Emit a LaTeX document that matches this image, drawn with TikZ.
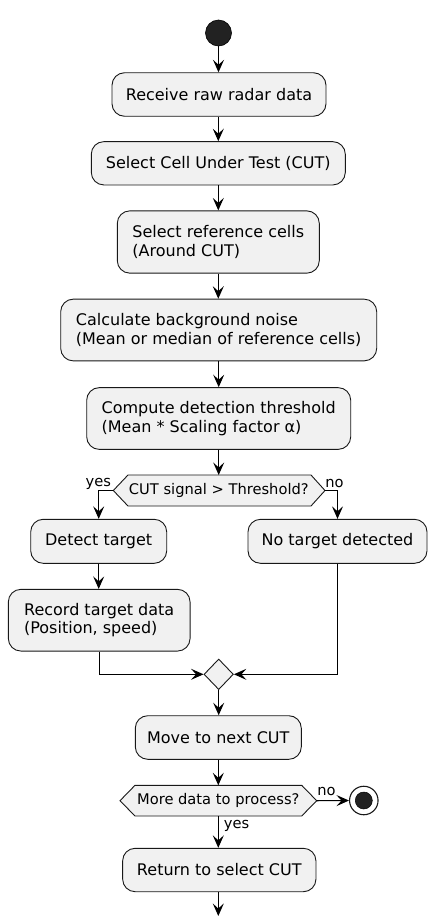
\documentclass[tikz,border=0pt]{standalone}
\usepackage{fontspec}
\setmainfont{DejaVu Sans}
\usetikzlibrary{arrows.meta,shapes.geometric}
\definecolor{boxfill}{HTML}{F1F1F1}
\definecolor{boxline}{HTML}{181818}
\definecolor{startfill}{HTML}{222222}
\newcommand\actfont{\fontsize{16}{18.6}\selectfont}
\newcommand\lblfont{\fontsize{14.67}{17}\selectfont}
\tikzset{
  act/.style={draw=boxline, fill=boxfill, line width=0.9pt, rounded corners=12.5pt,
    inner sep=0pt, align=left, font=\actfont},
  arr/.style={line width=1.1pt, draw=black, -{Stealth[length=12.5pt,width=11pt,inset=5pt]}},
  hexa/.style={draw=boxline, fill=boxfill, line width=0.9pt},
  lbl/.style={font=\lblfont, inner sep=0pt},
}
\begin{document}
\begin{tikzpicture}[x=1pt,y=-1pt]
\useasboundingbox (0,0) rectangle (428,916);
\fill[white] (0,0) rectangle (428,916);

% start
\node[circle, fill=startfill, draw=black, line width=0.6pt, minimum size=26pt, inner sep=0pt] (start) at (218.5,33) {};

% activities
\node[act, minimum width=214pt, minimum height=43.5pt] (b1) at (219,94.5) {Receive raw radar data};
\node[act, minimum width=254pt, minimum height=43.3pt] (b2) at (218.3,163.3) {Select Cell Under Test (CUT)};
\node[act, minimum width=202pt, minimum height=62.3pt] (b3) at (218.3,242) {Select reference cells\\(Around CUT)};
\node[act, minimum width=316pt, minimum height=61.7pt] (b4) at (218.7,330) {Calculate background noise\\(Mean or median of reference cells)};
\node[act, minimum width=264pt, minimum height=61.7pt] (b5) at (218.7,418.5) {Compute detection threshold\\(Mean * Scaling factor α)};

% decision 1
\coordinate (d1l) at (113.3,490.5);
\coordinate (d1r) at (325,490.5);
\coordinate (d1t) at (218.7,475);
\draw[hexa] (d1l) -- (128,475) -- (311,475) -- (d1r) -- (311,506) -- (128,506) -- cycle;
\node[lbl] (d1) at (218.8,490.5) {CUT signal > Threshold?};
\node[lbl] (yes1) at (98.3,483.5) {yes};
\node[lbl] (no1) at (334.5,483.5) {no};

\node[act, minimum width=136pt, minimum height=44pt] (dt) at (98.7,541.3) {Detect target};
\node[act, minimum width=179pt, minimum height=44pt] (nt) at (337.5,541.3) {No target detected};
\node[act, minimum width=181.7pt, minimum height=61.7pt] (rt) at (99.2,620.2) {Record target data\\(Position, speed)};

% merge
\node[diamond, draw=boxline, fill=boxfill, line width=0.9pt, inner sep=0pt, aspect=1,
  minimum width=29.4pt, minimum height=30.6pt] (m) at (218.7,674.3) {};

\node[act, minimum width=166pt, minimum height=43.6pt] (mv) at (218.3,737.5) {Move to next CUT};

% decision 2
\coordinate (d2l) at (120,800.7);
\coordinate (d2r) at (316.7,800.7);
\coordinate (d2t) at (218.3,785.3);
\coordinate (d2b) at (218.3,816);
\draw[hexa] (d2l) -- (135,785.3) -- (301.7,785.3) -- (d2r) -- (301.7,816) -- (135,816) -- cycle;
\node[lbl] (d2) at (218.3,800.7) {More data to process?};
\node[lbl] (no2) at (326.5,791.5) {no};
\node[lbl] (yes2) at (236.5,825.5) {yes};

% end
\node[circle, draw=boxline, fill=white, line width=1.1pt, minimum size=28.5pt, inner sep=0pt] (endo) at (363.8,800.5) {};
\node[circle, fill=startfill, draw=black, line width=0.5pt, minimum size=17pt, inner sep=0pt] (endi) at (endo.center) {};

\node[act, minimum width=193.3pt, minimum height=43.4pt] (ret) at (219.3,870) {Return to select CUT};
\coordinate (out) at (218.3,916);

% connectors
\draw[arr] (start.south) -- (start.south |- b1.north);
\draw[arr] (b1.south -| b2.north) -- (b2.north);
\draw[arr] (b2.south) -- (b3.north);
\draw[arr] (b3.south) -- (b3.south |- b4.north);
\draw[arr] (b4.south) -- (b4.south |- b5.north);
\draw[arr] (b5.south) -- (b5.south |- d1t);
\draw[arr] (d1l) -| (dt.north);
\draw[arr] (d1r) -| (nt.north);
\draw[arr] (dt.south) -- (dt.south |- rt.north);
\draw[arr] (rt.south) |- (m.west);
\draw[arr] (nt.south) |- (m.east);
\draw[arr] (m.south) -- (m.south |- mv.north);
\draw[arr] (mv.south) -- (d2t);
\draw[arr] (d2r) -- (endo.west);
\draw[arr] (d2b) -- (d2b |- ret.north);
\draw[arr] (ret.south -| out) -- (out);
\end{tikzpicture}
\end{document}
